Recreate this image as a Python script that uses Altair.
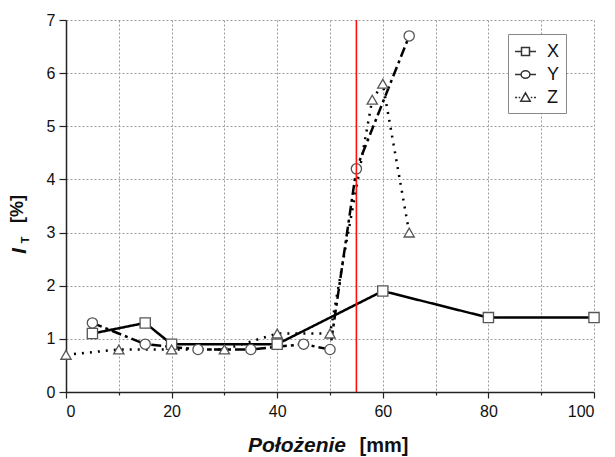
import altair as alt
import pandas as pd

# ---- data ----
series_names = ["X", "Y", "Z"]
pos_X = [5, 15, 20, 40, 60, 80, 100]
val_X = [1.1, 1.3, 0.9, 0.9, 1.9, 1.4, 1.4]
pos_Y = [5, 15, 25, 35, 45, 50, 55, 65]
val_Y = [1.3, 0.9, 0.8, 0.8, 0.9, 0.8, 4.2, 6.7]
pos_Z = [0, 10, 20, 30, 40, 50, 58, 60, 65]
val_Z = [0.7, 0.8, 0.8, 0.8, 1.1, 1.1, 5.5, 5.8, 3.0]
red_line_x = [55]
x_ticks = [0, 10, 20, 30, 40, 50, 60, 70, 80, 90, 100]
y_ticks = [0, 0.5, 1, 1.5, 2, 2.5, 3, 3.5, 4, 4.5, 5, 5.5, 6, 6.5, 7]

rows = []
for name, xs, ys in zip(series_names, [pos_X, pos_Y, pos_Z], [val_X, val_Y, val_Z]):
    for i, (a, b) in enumerate(zip(xs, ys)):
        rows.append({"series": name, "pos": a, "val": b, "idx": i})
df = pd.DataFrame(rows)
red_df = pd.DataFrame({"pos": red_line_x})
one = pd.DataFrame({"k": [0]})

FONT = "Liberation Sans"

xaxis = alt.Axis(
    values=x_ticks, title=None, format="d",
    labelExpr="datum.value % 20 === 0 ? datum.label : ''",
    tickSize={"condition": {"test": "datum.value % 20 === 0", "value": 6}, "value": 3},
    grid=True, gridDash=[2, 2], gridColor="#9a9a9a", gridWidth=1,
    domainColor="#222", domainWidth=1.5, tickColor="#222", tickWidth=1.2,
    labelFont=FONT, labelFontSize=16, labelColor="#111", labelPadding=5,
)
yaxis = alt.Axis(
    values=y_ticks, title=None, format="d",
    labelExpr="datum.value % 1 === 0 ? datum.label : ''",
    tickSize={"condition": {"test": "datum.value % 1 === 0", "value": 7}, "value": 3},
    grid=True, gridDash=[2, 2], gridColor="#9a9a9a", gridWidth=1,
    domainColor="#222", domainWidth=1.5, tickColor="#222", tickWidth=1.2,
    labelFont=FONT, labelFontSize=16, labelColor="#111", labelPadding=4,
)

X = alt.X("pos:Q", scale=alt.Scale(domain=[0, 100], nice=False, zero=False), axis=xaxis)
Y = alt.Y("val:Q", scale=alt.Scale(domain=[0, 7], nice=False), axis=yaxis)

base = alt.Chart(df)

lines = base.mark_line(color="black", strokeWidth=2.5).encode(
    x=X, y=Y,
    detail="series:N",
    strokeDash=alt.StrokeDash(
        "series:N",
        scale=alt.Scale(domain=series_names, range=[[1, 0], [10, 4, 3, 4], [2, 6]]),
        legend=None,
    ),
    order="idx:Q",
)

points = base.mark_point(filled=True, fill="white", stroke="#555", strokeWidth=1.3,
                         size=105, opacity=1).encode(
    x=X, y=Y,
    shape=alt.Shape("series:N",
                    scale=alt.Scale(domain=series_names, range=["square", "circle", "triangle-up"]),
                    legend=None),
)

legend_paths = [
    "M-1,0H-0.45M0.45,0H1M-0.38,-0.38H0.38V0.38H-0.38Z",
    "M-1,0H-0.45M0.45,0H1M-0.42,0A0.42,0.36 0 1,0 0.42,0A0.42,0.36 0 1,0 -0.42,0Z",
    "M-1,0H-0.8M-0.65,0H-0.5M0.5,0H0.65M0.8,0H1M0,-0.45L0.45,0.35H-0.45Z",
]

legend_layer = base.transform_filter("datum.val < -1000").mark_point(
    filled=False, color="#333", strokeWidth=1.5, opacity=1
).encode(
    x=X, y=Y,
    shape=alt.Shape(
        "series:N",
        scale=alt.Scale(domain=series_names, range=legend_paths),
        legend=alt.Legend(
            title=None, orient="none", legendX=442, legendY=14,
            symbolSize=440, symbolStrokeWidth=1.5, symbolStrokeColor="#333",
            symbolOpacity=1,
            labelFont=FONT, labelFontSize=18, labelColor="#111", labelOffset=10,
            padding=6, rowPadding=2, strokeColor="#888", fillColor="white",
            cornerRadius=0,
        ),
    ),
)

red = alt.Chart(red_df).mark_rule(color="#ff1010", strokeWidth=1.6).encode(x=X)

def txt(t, x, y, size=18, style="normal", weight="bold", align="center", baseline="middle", angle=0):
    return alt.Chart(one).mark_text(
        text=t, font=FONT, fontSize=size, fontStyle=style, fontWeight=weight,
        align=align, baseline=baseline, angle=angle, color="#111",
    ).encode(x=alt.value(x), y=alt.value(y))

titles = [
    txt("Położenie", 231, 432, size=21, style="italic", baseline="alphabetic"),
    txt("[mm]", 318, 432, size=20, baseline="alphabetic"),
    txt("I", -46, 231, size=20, style="italic", angle=270),
    txt("T", -40, 220, size=11, angle=270),
    txt("[%]", -48, 189, size=18, angle=270),
]

chart = alt.layer(lines, points, legend_layer, red, *titles).resolve_scale(
    shape="independent"
).properties(
    width=528, height=372,
    autosize=alt.AutoSizeParams(type="none"),
    padding={"left": 66, "top": 20, "right": 21, "bottom": 65},
    background="white",
).configure_view(stroke=None)

chart.save("out.html", embed_options={"renderer": "svg", "actions": False})
